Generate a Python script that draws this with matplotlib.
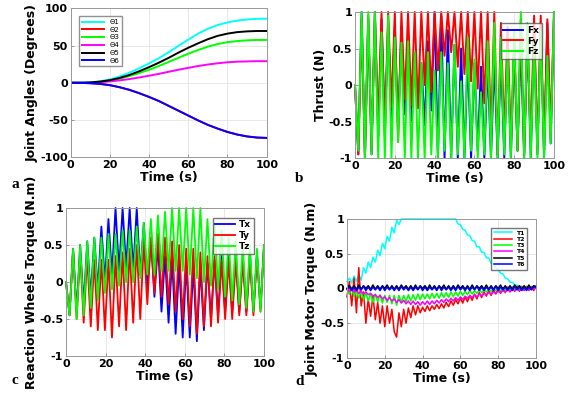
import numpy as np
import matplotlib
matplotlib.use("Agg")
import matplotlib.pyplot as plt
from matplotlib.ticker import FuncFormatter

# ---- panel a: joint angles (deg), sampled every 5 s
time_a = [0, 5, 10, 15, 20, 25, 30, 35, 40, 45, 50, 55, 60, 65, 70, 75, 80, 85, 90, 95, 100]
theta1 = [0, 0, 0.5, 2, 4.5, 8.5, 13.5, 19.5, 26, 33, 41, 49.5, 58, 66, 72.5, 77.5, 81, 83.5, 85, 85.8, 86]
theta2 = [0, -0.1, -0.6, -1.5, -3.2, -6, -9.5, -14, -19, -24.5, -31, -37.5, -44, -50.5, -56.5, -61.5, -66, -69.5, -72, -73.5, -74]
theta3 = [0, 0, 0.3, 1.3, 3, 5.5, 9, 13, 17.5, 22.5, 28, 33.5, 39, 44, 48.5, 52, 54.5, 56, 57, 57.5, 57.5]
theta4 = [0, 0, 0.2, 0.8, 1.8, 3.2, 5, 7.2, 9.5, 12, 14.8, 17.5, 20, 22.5, 24.5, 26.2, 27.5, 28.3, 28.7, 29, 29]
theta5 = [0, 0, 0.4, 1.6, 3.5, 6.5, 10.5, 15.5, 21, 27, 33.5, 40.5, 47, 53, 58.5, 63, 66, 68, 69, 69.5, 69.5]
theta6 = [0, -0.1, -0.6, -1.5, -3.2, -6, -9.5, -14, -19, -24.5, -31, -37.5, -44, -50.5, -56.5, -61.5, -66, -69.5, -72, -73.5, -74]

# ---- panel b: thrust extremes (N), one value per half cycle
fx = [0.0, -0.95, 1.0, -1.0, 0.9, -0.95, 1.0, -0.7, 0.9, -0.6, 0.85, -0.5, 0.8, -0.6, 0.8, -0.4,
      0.6, -0.5, 0.35, -0.3, 0.3, -0.55, 0.6, -0.35, 1.0, -1.0, 0.95, -1.0, 0.75, -1.0, 0.55, -1.0,
      0.5, -1.0, 0.4, -1.0, 0.3, -0.9, 0.25, -1.0, 0.3, -1.0, 0.35, -1.0, 0.4, -1.0, 0.5, -1.0,
      0.55, -0.9, 0.6, -1.0, 0.7, -1.0, 0.75, -0.95, 0.8, -1.0, 0.85, -0.8, 1.0]
fy = [0.0, -0.95, 0.9, -1.0, 0.95, -0.9, 1.0, -0.6, 1.0, -0.7, 1.0, -0.3, 1.0, -0.78, 1.0, -0.2,
      1.0, -0.28, 1.0, -0.32, 1.0, 0.0, 1.0, -0.1, 1.0, 0.2, 1.0, 0.4, 1.0, 0.45, 1.0, 0.25,
      1.0, 0.15, 1.0, 0.05, 1.0, -0.05, 1.0, -0.25, 1.0, -0.7, 1.0, -0.95, 0.85, -0.7, 0.8, -0.85,
      0.6, -0.9, 0.9, -0.95, 0.7, -0.8, 0.95, -0.9, 0.95, -0.9, 0.9, -0.65, 0.95]
fz = [0.0, -0.9, 1.0, -1.0, 1.0, -0.95, 1.0, -1.0, 0.72, -1.0, 0.95, -1.0, 0.65, -0.78, 0.58, -1.0,
      0.6, -1.0, 0.45, -1.0, 0.3, -1.0, 0.45, -0.95, 0.2, -1.0, 0.45, -0.9, 0.3, -1.0, 0.55, -0.95,
      0.05, -1.0, 0.65, -0.9, 0.35, -1.0, -0.1, -0.95, 0.6, -1.0, 0.85, -1.0, 0.65, -0.95, 0.45, -1.0,
      0.75, -0.9, 1.0, -1.0, 0.85, -1.0, 0.6, -1.0, 0.75, -1.0, 0.4, -0.8, 1.0]

# ---- panel c: reaction wheel torque extremes (N.m), one value per half cycle
tx = [0.0, -0.45, 0.45, -0.4, 0.5, -0.3, 0.55, -0.2, 0.6, -0.1, 0.75, 0.0, 0.85, 0.1, 1.0, 0.15,
      1.0, 0.2, 1.0, 0.15, 1.0, 0.1, 0.8, -0.1, 0.6, -0.2, 0.5, -0.4, 0.35, -0.55, 0.3, -0.7,
      0.25, -0.75, 0.25, -0.75, 0.2, -0.8, 0.2, -0.65, 0.25, -0.5, 0.3, -0.45, 0.35, -0.4, 0.35, -0.4,
      0.35, -0.4, 0.35, -0.4, 0.4, -0.4, 0.4, -0.35, 0.5]
ty = [0.0, -0.45, 0.45, -0.5, 0.4, -0.55, 0.35, -0.6, 0.3, -0.65, 0.3, -0.65, 0.3, -0.75, 0.35, -0.6,
      0.4, -0.65, 0.45, -0.55, 0.5, -0.5, 0.55, -0.3, 0.6, -0.15, 0.65, -0.2, 0.6, -0.3, 0.55, -0.4,
      0.5, -0.5, 0.45, -0.6, 0.45, -0.7, 0.4, -0.6, 0.35, -0.6, 0.35, -0.55, 0.3, -0.5, 0.3, -0.5,
      0.3, -0.45, 0.3, -0.45, 0.3, -0.45, 0.35, -0.4, 0.5]
tz = [0.0, -0.45, 0.45, -0.5, 0.5, -0.45, 0.55, -0.35, 0.6, -0.25, 0.6, -0.15, 0.65, -0.1, 0.65, -0.05,
      0.7, 0.0, 0.7, 0.0, 0.75, 0.05, 0.8, 0.1, 0.85, 0.1, 0.9, 0.15, 0.95, 0.15, 1.0, 0.15,
      1.0, 0.15, 1.0, 0.1, 1.0, 0.05, 1.0, 0.0, 0.85, -0.05, 0.8, -0.1, 0.7, -0.2, 0.6, -0.25,
      0.55, -0.3, 0.5, -0.35, 0.5, -0.4, 0.45, -0.4, 0.5]

# ---- panel d: joint motor torque (N.m), sampled every 1.25 s
t1 = [0.10, 0.15, 0.08, 0.18, 0.10, 0.20, 0.12, 0.30, 0.22, 0.38, 0.30, 0.45, 0.38, 0.55, 0.47, 0.65,
      0.57, 0.75, 0.68, 0.88, 0.80, 0.98, 0.92,
      1.0, 1.0, 1.0, 1.0, 1.0, 1.0, 1.0, 1.0, 1.0, 1.0, 1.0, 1.0, 1.0, 1.0, 1.0, 1.0, 1.0, 1.0,
      1.0, 1.0, 1.0, 1.0, 1.0, 1.0,
      0.93, 0.92, 0.85, 0.84, 0.77, 0.76, 0.69, 0.68, 0.60, 0.60, 0.52, 0.52, 0.44, 0.44, 0.36, 0.36,
      0.29, 0.28, 0.22, 0.21, 0.15, 0.14, 0.09, 0.09, 0.05, 0.05, 0.02, 0.02, 0.0, 0.02, 0.0, 0.02,
      0.0, 0.03]
t2 = [-0.12, 0.10, -0.25, 0.15, -0.35, 0.30, -0.25, -0.05, -0.50, -0.15, -0.40, -0.10, -0.45, -0.20,
      -0.50, -0.25, -0.55, -0.25, -0.50, -0.30, -0.62, -0.70, -0.35, -0.55, -0.30, -0.50, -0.28, -0.42,
      -0.25, -0.38, -0.25, -0.35, -0.27, -0.33, -0.25, -0.32, -0.25, -0.30, -0.23, -0.29, -0.22, -0.28,
      -0.20, -0.26, -0.18, -0.24, -0.16, -0.22, -0.14, -0.21, -0.12, -0.19, -0.10, -0.17, -0.08, -0.15,
      -0.06, -0.13, -0.05, -0.11, -0.03, -0.10, -0.02, -0.08, 0.00, -0.07, 0.01, -0.06, 0.02, -0.05,
      0.02, -0.04, 0.03, -0.04, 0.03, -0.03, 0.03, -0.03, 0.03, -0.03, 0.02]
t3 = [-0.02, -0.08, 0.02, -0.12, -0.02, -0.14, -0.04, -0.16, -0.06, -0.18, -0.07, -0.20, -0.08, -0.19,
      -0.09, -0.21, -0.10, -0.20, -0.10, -0.22, -0.10, -0.24, -0.10, -0.20, -0.10, -0.19, -0.09, -0.18,
      -0.09, -0.17, -0.08, -0.16, -0.08, -0.15, -0.08, -0.15, -0.07, -0.14, -0.07, -0.14, -0.06, -0.13,
      -0.06, -0.13, -0.05, -0.12, -0.05, -0.11, -0.04, -0.10, -0.04, -0.09, -0.03, -0.08, -0.03, -0.07,
      -0.02, -0.06, -0.02, -0.05, -0.01, -0.04, -0.01, -0.03, 0.00, -0.03, 0.00, -0.02, 0.01, -0.02,
      0.01, -0.01, 0.01, -0.01, 0.02, -0.01, 0.02, 0.00, 0.02, 0.00, 0.02]
t4 = [-0.01, -0.04, -0.02, -0.05, -0.03, -0.07, -0.04, -0.08, -0.05, -0.09, -0.07, -0.11, -0.09, -0.13,
      -0.10, -0.15, -0.12, -0.17, -0.13, -0.18, -0.15, -0.20, -0.16, -0.21, -0.17, -0.22, -0.18, -0.23,
      -0.18, -0.23, -0.19, -0.24, -0.19, -0.23, -0.18, -0.23, -0.18, -0.22, -0.17, -0.21, -0.16, -0.20,
      -0.15, -0.19, -0.14, -0.18, -0.13, -0.17, -0.12, -0.16, -0.11, -0.14, -0.10, -0.13, -0.09, -0.12,
      -0.08, -0.10, -0.07, -0.09, -0.06, -0.08, -0.05, -0.07, -0.04, -0.06, -0.03, -0.05, -0.02, -0.04,
      -0.02, -0.03, -0.01, -0.03, 0.00, -0.02, 0.00, -0.02, 0.01, -0.01, 0.01]
t5 = [0.00, 0.04, -0.01, 0.04, -0.01, 0.05, -0.01, 0.04, 0.00, 0.04, -0.01, 0.05, -0.01, 0.04, -0.01,
      0.04, 0.00, 0.05, -0.01, 0.04, -0.01, 0.04, -0.01, 0.05, 0.00, 0.04, -0.01, 0.04, -0.01, 0.05,
      -0.01, 0.04, 0.00, 0.04, -0.01, 0.05, -0.01, 0.04, -0.01, 0.04, 0.00, 0.05, -0.01, 0.04, -0.01,
      0.04, -0.01, 0.05, 0.00, 0.04, -0.01, 0.04, -0.01, 0.05, -0.01, 0.04, 0.00, 0.04, -0.01, 0.05,
      -0.01, 0.04, -0.01, 0.04, 0.00, 0.05, -0.01, 0.04, -0.01, 0.04, -0.01, 0.05, 0.00, 0.04, -0.01,
      0.04, -0.01, 0.05, -0.01, 0.04, 0.03]
t6 = [0.00, 0.02, -0.03, 0.02, -0.03, 0.02, -0.02, 0.03, -0.03, 0.02, -0.03, 0.02, -0.02, 0.02, -0.03,
      0.03, -0.03, 0.02, -0.02, 0.02, -0.03, 0.02, -0.03, 0.03, -0.02, 0.02, -0.03, 0.02, -0.03, 0.02,
      -0.02, 0.03, -0.03, 0.02, -0.03, 0.02, -0.02, 0.02, -0.03, 0.03, -0.03, 0.02, -0.02, 0.02, -0.03,
      0.02, -0.03, 0.03, -0.02, 0.02, -0.03, 0.02, -0.03, 0.02, -0.02, 0.03, -0.03, 0.02, -0.03, 0.02,
      -0.02, 0.02, -0.03, 0.03, -0.03, 0.02, -0.02, 0.02, -0.03, 0.02, -0.03, 0.03, -0.02, 0.02, -0.03,
      0.02, -0.03, 0.02, -0.02, 0.02, 0.02]

cols = {'c': '#00ffff', 'r': '#ff0000', 'g': '#00ff00', 'm': '#ff00ff', 'k': '#000000', 'b': '#0000ff'}

plt.rcParams['font.family'] = ['DejaVu Sans']
plt.rcParams['font.weight'] = 'bold'
plt.rcParams['axes.labelweight'] = 'bold'

fig = plt.figure(figsize=(5.76, 3.96), dpi=100)
ax_a = fig.add_axes([0.1227, 0.6028, 0.3403, 0.3763])
ax_b = fig.add_axes([0.6163, 0.6010, 0.3455, 0.3687])
ax_c = fig.add_axes([0.1146, 0.1010, 0.3438, 0.3737])
ax_d = fig.add_axes([0.6024, 0.0960, 0.3281, 0.3510])


def span(vals):
    # evenly spaced time grid over 0-100 s for a series
    return np.linspace(0, 100, len(vals))


def style(ax, ylim, yticks, ylabel):
    ax.set_xlim(0, 100)
    ax.set_ylim(*ylim)
    ax.set_xticks([0, 20, 40, 60, 80, 100])
    ax.set_yticks(yticks)
    ax.yaxis.set_major_formatter(FuncFormatter(lambda v, p: '%g' % v))
    ax.grid(True, color='#e4e4e4', linewidth=0.6)
    ax.set_axisbelow(True)
    ax.tick_params(direction='in', length=2.5, width=0.6, color='#888888', labelsize=8, pad=2)
    for s in ax.spines.values():
        s.set_color('#999999')
        s.set_linewidth(0.7)
    ax.set_xlabel('Time (s)', fontsize=9, labelpad=1)
    ax.set_ylabel(ylabel, fontsize=9, labelpad=1)


# a
ax_a.plot(time_a, theta1, color=cols['c'], lw=1.4, label='Θ1')
ax_a.plot(time_a, theta2, color=cols['r'], lw=1.4, label='Θ2')
ax_a.plot(time_a, theta3, color=cols['g'], lw=1.4, label='Θ3')
ax_a.plot(time_a, theta4, color=cols['m'], lw=1.4, label='Θ4')
ax_a.plot(time_a, theta5, color=cols['k'], lw=1.4, label='Θ5')
ax_a.plot(time_a, theta6, color=cols['b'], lw=1.4, label='Θ6')
style(ax_a, (-100, 100), [-100, -50, 0, 50, 100], 'Joint Angles (Degrees)')
ax_a.legend(loc='upper left', bbox_to_anchor=(0.025, 0.97), handlelength=3.2,
            labelspacing=0.25, borderpad=0.4, fancybox=False, edgecolor='#777777',
            prop={'size': 5, 'weight': 'normal'})

# b
ax_b.plot(span(fx), fx, color=cols['b'], lw=1.4, label='Fx', clip_on=False)
ax_b.plot(span(fy), fy, color=cols['r'], lw=1.4, label='Fy', clip_on=False)
ax_b.plot(span(fz), fz, color=cols['g'], lw=1.4, label='Fz', clip_on=False)
style(ax_b, (-1, 1), [-1, -0.5, 0, 0.5, 1], 'Thrust (N)')
ax_b.legend(loc='upper right', bbox_to_anchor=(0.96, 0.955), handlelength=2.2,
            labelspacing=0.2, borderpad=0.3, handletextpad=0.4, fancybox=False,
            edgecolor='#555555', prop={'size': 6.5, 'weight': 'bold'})

# c
ax_c.plot(span(tx), tx, color=cols['b'], lw=1.3, label='Tx', clip_on=False)
ax_c.plot(span(ty), ty, color=cols['r'], lw=1.3, label='Ty', clip_on=False)
ax_c.plot(span(tz), tz, color=cols['g'], lw=1.3, label='Tz', clip_on=False)
style(ax_c, (-1, 1), [-1, -0.5, 0, 0.5, 1], 'Reaction Wheels Torque (N.m)')
ax_c.legend(loc='upper right', bbox_to_anchor=(0.97, 0.965), handlelength=2.2,
            labelspacing=0.2, borderpad=0.3, handletextpad=0.4, fancybox=False,
            edgecolor='#555555', prop={'size': 6.5, 'weight': 'bold'})

# d
ax_d.plot(span(t1), t1, color=cols['c'], lw=1.1, label='T1', clip_on=False)
ax_d.plot(span(t2), t2, color=cols['r'], lw=1.1, label='T2', clip_on=False)
ax_d.plot(span(t3), t3, color=cols['g'], lw=1.1, label='T3', clip_on=False)
ax_d.plot(span(t4), t4, color=cols['m'], lw=1.1, label='T4', clip_on=False)
ax_d.plot(span(t5), t5, color=cols['k'], lw=1.1, label='T5', clip_on=False)
ax_d.plot(span(t6), t6, color=cols['b'], lw=1.1, label='T6', clip_on=False)
style(ax_d, (-1, 1), [-1, -0.5, 0, 0.5, 1], 'Joint Motor Torque (N.m)')
ax_d.legend(loc='upper right', bbox_to_anchor=(0.97, 0.96), handlelength=3.0,
            labelspacing=0.15, borderpad=0.4, handletextpad=0.6, fancybox=False,
            edgecolor='#555555', prop={'size': 4.5, 'weight': 'bold'})

# panel letters
for ch, x, y in [('a', 12, 188), ('b', 295, 182), ('c', 12, 384), ('d', 295, 385)]:
    fig.text(x / 576, 1 - y / 396, ch, family='Liberation Serif', fontsize=11,
             fontweight='bold', ha='left', va='baseline')

fig.savefig('out.png', dpi=100)
